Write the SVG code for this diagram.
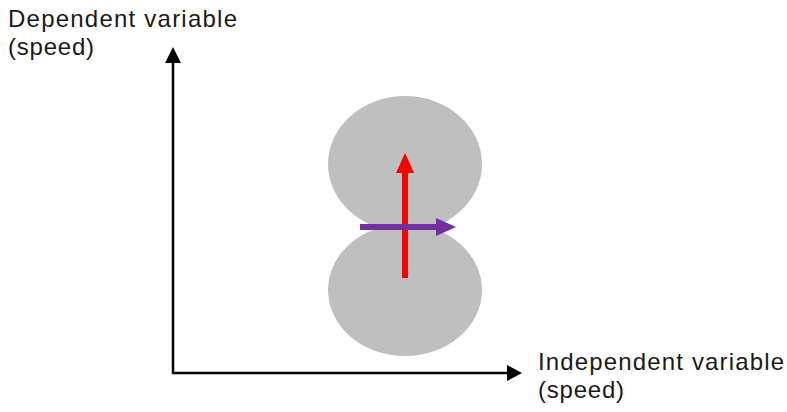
<svg xmlns="http://www.w3.org/2000/svg" width="787" height="412" viewBox="0 0 787 412">
<style>
.lbl{font-family:"Liberation Sans",Arial,sans-serif;font-size:24px;fill:#1a1a1a}
.blob{fill:#bfbfbf}
</style>
<rect width="787" height="412" fill="#fff"/>
<g id="blob-top"><ellipse class="blob" cx="405" cy="164" rx="77" ry="68"/></g>
<g id="blob-bottom"><ellipse class="blob" cx="405" cy="290" rx="77" ry="66"/></g>
<g id="connectors">
<line x1="173" y1="374" x2="173" y2="62" stroke="#000" stroke-width="2.5"/>
<path d="M165,63 L173,47 L181,63 z" fill="#000"/>
<line x1="172" y1="373" x2="508" y2="373" stroke="#000" stroke-width="2.5"/>
<path d="M507,365 L522,373 L507,381 z" fill="#000"/>
<line x1="405" y1="278" x2="405" y2="171" stroke="#ff0000" stroke-width="6"/>
<path d="M396,173 L405,153 L414,173 z" fill="#ff0000"/>
<line x1="360" y1="227" x2="437" y2="227" stroke="#7030a0" stroke-width="6"/>
<path d="M436,218 L456,227 L436,236 z" fill="#7030a0"/>
</g>
<g id="label-y">
<text class="lbl" x="8" y="27" textLength="229" lengthAdjust="spacing">Dependent variable</text>
<text class="lbl" x="8" y="55" textLength="86" lengthAdjust="spacing">(speed)</text>
</g>
<g id="label-x">
<text class="lbl" x="538" y="370" textLength="246" lengthAdjust="spacing">Independent variable</text>
<text class="lbl" x="538" y="398" textLength="86" lengthAdjust="spacing">(speed)</text>
</g>
</svg>
